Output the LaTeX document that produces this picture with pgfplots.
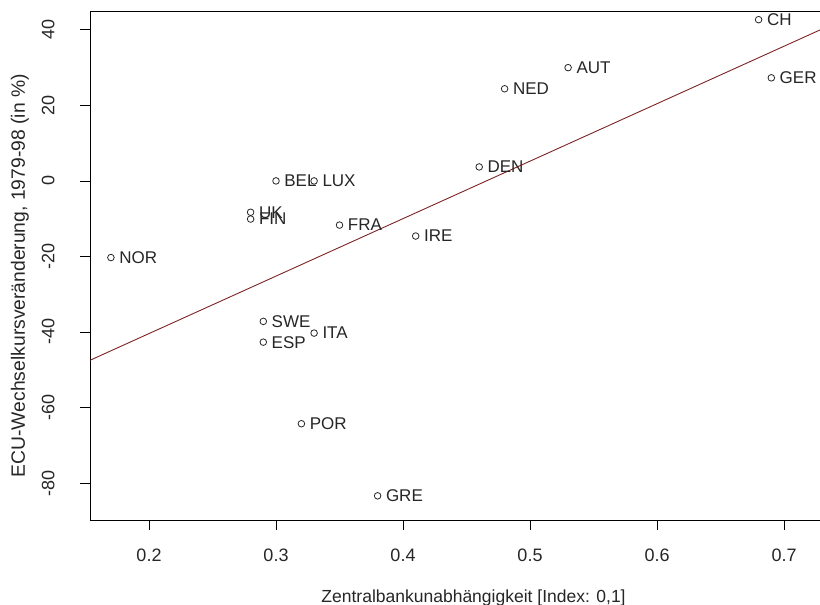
\documentclass[border=0pt]{standalone}
\usepackage{fontspec}
\setmainfont{Liberation Sans}
\usepackage{pgfplots}
\pgfplotsset{compat=1.18}
\definecolor{fitcol}{RGB}{125,35,35}
\begin{document}
\begin{tikzpicture}
\begin{axis}[
  scale only axis,
  width=731bp, height=509bp,
  xmin=0.15354, xmax=0.72913,
  ymin=-89.8, ymax=45.0,
  xtick={0.2,0.3,0.4,0.5,0.6,0.7},
  xticklabels={0.2,0.3,0.4,0.5,0.6,0.7},
  ytick={-80,-60,-40,-20,0,20,40},
  yticklabels={-80,-60,-40,-20,0,20,40},
  tick align=outside, major tick length=10bp,
  xtick pos=bottom, ytick pos=left,
  tick style={black, line width=0.8bp},
  axis line style={black, line width=0.8bp},
  xticklabel style={font=\fontsize{18bp}{20bp}\selectfont, anchor=base, inner sep=0pt, yshift=-31bp, text=black!85},
  yticklabel style={font=\fontsize{18bp}{20bp}\selectfont, xshift=-25.5bp, rotate=90, anchor=base, inner sep=0pt, text=black!85},
  xlabel={Zentralbankunabhängigkeit [Index: 0,1]},
  ylabel={ECU-Wechselkursveränderung, 1979-98 (in \%)},
  xlabel style={font=\fontsize{17.5bp}{20bp}\selectfont, at={(axis description cs:0.5247,-0.163)}, anchor=base, inner sep=0pt, text=black!85},
  ylabel style={font=\fontsize{19.3bp}{22bp}\selectfont, at={(axis description cs:-0.089,0.48)}, rotate=0, anchor=base, inner sep=0pt, text=black!85},
]
\addplot[color=fitcol, line width=0.9bp] coordinates {(0.15354,-47.5) (0.72913,40.1)};
\addplot[only marks, mark=o, mark size=3.3bp,
  mark options={line width=0.8bp, black!85},
  point meta=explicit symbolic,
  nodes near coords,
  nodes near coords style={anchor=west, inner sep=0pt, xshift=8bp,
    font=\fontsize{17bp}{19bp}\selectfont, text=black!85}]
table[x=x, y=y, meta=label] {
x y label
0.17 -20.3 NOR
0.28 -8.3 UK
0.28 -10.1 FIN
0.29 -37.2 SWE
0.29 -42.7 ESP
0.30 0.0 BEL
0.32 -64.3 POR
0.33 0.0 LUX
0.33 -40.3 ITA
0.35 -11.7 FRA
0.38 -83.4 GRE
0.41 -14.6 IRE
0.46 3.7 DEN
0.48 24.4 NED
0.53 30.0 AUT
0.68 42.7 CH
0.69 27.3 GER
};
\end{axis}
\pgfresetboundingbox
\useasboundingbox ([xshift=-90bp,yshift=-85bp]current axis.south west) rectangle ([xshift=-1bp,yshift=11bp]current axis.north east);
\end{tikzpicture}
\end{document}
